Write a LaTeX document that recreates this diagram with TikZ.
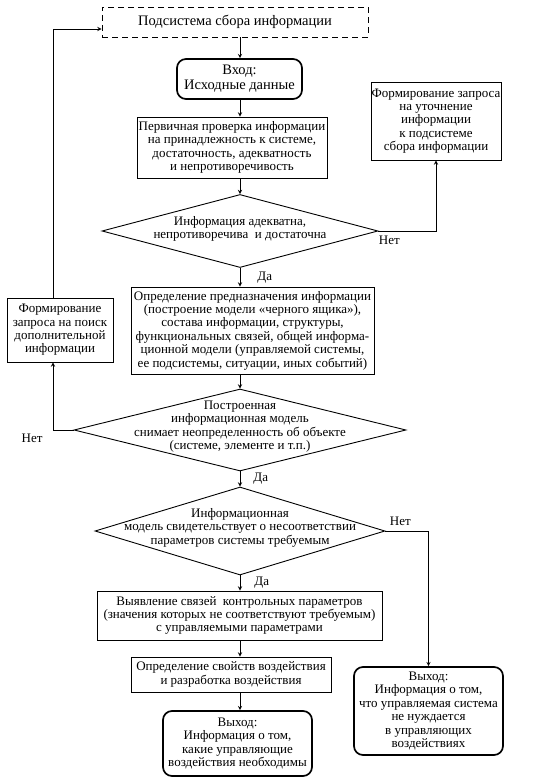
\documentclass[tikz,border=0pt]{standalone}
\usepackage{fontspec}
\setmainfont{Liberation Serif}
\usetikzlibrary{shapes.geometric,positioning}
\begin{document}
\begin{tikzpicture}[>=stealth,x=1pt,y=-1pt,line width=0.9pt,
	font=\fontsize{13}{13.4}\selectfont,
	box/.style={draw,align=center,inner sep=0pt},
	io/.style={box,rounded corners=9pt,line width=1.7pt},
	dia/.style={draw,diamond,inner sep=0pt},
	txt/.style={align=center,inner sep=0pt},
	big/.style={font=\fontsize{14.5}{15}\selectfont}]
	\useasboundingbox (0,0) rectangle (545,783);
	\coordinate (ax) at (240,0);
	\coordinate (lx) at (53,0);
	% main column
	\node[box,big,dashed,dash pattern=on 6pt off 4pt,minimum width=266pt,minimum height=30pt] (src) at (235,22) {Подсистема сбора информации};
	\node[io,big,minimum width=125pt,minimum height=40pt] (in) at (239.5,79) {Вход:\\Исходные данные};
	\node[box,minimum width=190pt,minimum height=61pt] (chk) at (232,147.5) {Первичная проверка информации\\на принадлежность к системе,\\достаточность, адекватность\\и непротиворечивость};
	\node[dia,minimum width=276pt,minimum height=73pt] (d1) at (240,231) {};
	\node[txt] (d1t) at (240,229) {Информация адекватна,\\непротиворечива\ \ и достаточна};
	\node[box,minimum width=243pt,minimum height=87pt] (def) at (252.5,330.5) {Определение предназначения информации\\(построение модели «черного ящика»),\\состава информации, структуры,\\функциональных связей, общей информа-\\ционной модели (управляемой системы,\\ее подсистемы, ситуации, иных событий)};
	\node[dia,minimum width=332pt,minimum height=82pt] (d2) at (240,430) {};
	\node[txt] (d2t) at (240,426.5) {Построенная\\информационная модель\\снимает неопределенность об объекте\\(системе, элементе и т.п.)};
	\node[dia,minimum width=290pt,minimum height=88pt] (d3) at (240,531) {};
	\node[txt] (d3t) at (240,527.5) {Информационная\\модель свидетельствует о несоответствии\\параметров системы требуемым};
	\node[box,minimum width=285pt,minimum height=49pt] (links) at (239.5,615.5) {Выявление связей\ \ контрольных параметров\\(значения которых не соответствуют требуемым)\\с управляемыми параметрами};
	\node[box,minimum width=200pt,minimum height=35pt] (prop) at (231,674.5) {Определение свойств воздействия\\и разработка воздействия};
	\node[io,minimum width=149pt,minimum height=65pt] (outA) at (237.5,743.5) {Выход:\\Информация о том,\\какие управляющие\\воздействия необходимы};
	% side boxes
	\node[box,minimum width=130pt,minimum height=78pt] (req) at (436,121) {Формирование запроса\\на уточнение\\информации\\к подсистеме\\сбора информации};
	\node[box,minimum width=106pt,minimum height=64pt] (srch) at (60,330) {Формирование\\запроса на поиск\\дополнительной\\информации};
	\node[io,minimum width=149pt,minimum height=88pt] (outB) at (428.5,711) {Выход:\\Информация о том,\\что управляемая система\\не нуждается\\в управляющих\\воздействиях};
	% arrows
	\draw[->] (src.south -| ax) -- (in.north -| ax);
	\draw[->] (in.south -| ax) -- (chk.north -| ax);
	\draw[->] (chk.south -| ax) -- (d1.north);
	\draw[->] (d1.south) -- (def.north -| ax) node[midway,right=17pt,inner sep=0pt] (yes1) {Да};
	\draw[->] (d1.east) -| (req.south) node[pos=0,anchor=north west,yshift=-5pt,inner sep=0pt] (no1) {Нет};
	\draw[->] (def.south -| ax) -- (d2.north);
	\draw[->] (d2.south) -- (d3.north) node[midway,right=13pt,inner sep=0pt] (yes2) {Да};
	\draw[->] (d2.west) -- (d2.west -| lx) node[pos=1,anchor=north east,xshift=-10pt,yshift=-4pt,inner sep=0pt] (no2) {Нет} -- (srch.south -| lx);
	\draw[->] (srch.north -| lx) |- ([yshift=-7pt]src.west);
	\draw[->] (d3.south) -- (links.north -| ax) node[midway,right=14pt,inner sep=0pt] (yes3) {Да};
	\draw[->] (d3.east) -| (outB.north) node[pos=0,anchor=south west,xshift=4pt,yshift=5pt,inner sep=0pt] (no3) {Нет};
	\draw[->] (links.south -| ax) -- (prop.north -| ax);
	\draw[->] (prop.south -| ax) -- (outA.north -| ax);
\end{tikzpicture}
\end{document}
